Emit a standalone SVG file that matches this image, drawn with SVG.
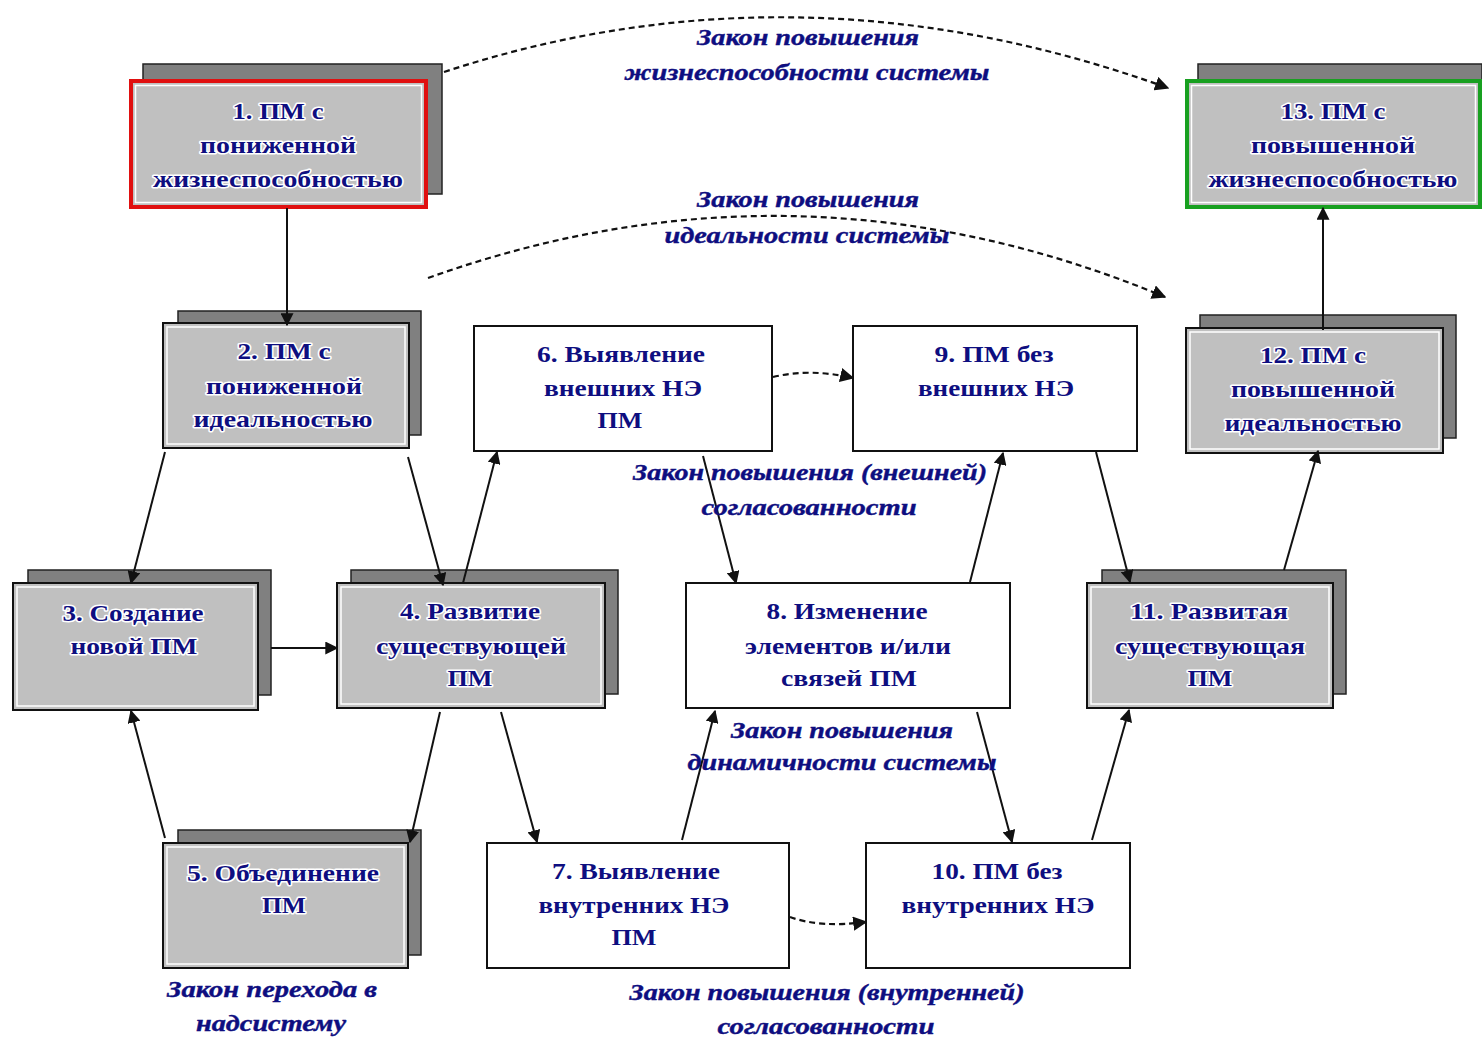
<svg xmlns="http://www.w3.org/2000/svg" width="1482" height="1037" viewBox="0 0 1482 1037">
<style>
.sh{fill:#808080;stroke:#222;stroke-width:1.5}
.gb{fill:#c0c0c0;stroke:#111;stroke-width:2}
.in{fill:none;stroke:#fff;stroke-width:1.5}
.wb{fill:#fff;stroke:#111;stroke-width:2}
.t{font-family:"Liberation Serif","DejaVu Serif",serif;font-weight:bold;font-size:24px;fill:#0e0e80;stroke:#fff;stroke-width:3;paint-order:stroke;stroke-linejoin:round;text-anchor:middle}
.l{font-family:"Liberation Serif","DejaVu Serif",serif;font-weight:bold;font-style:italic;font-size:23px;fill:#0e0e80;stroke:#0e0e80;stroke-width:0.4;text-anchor:middle}
.c{fill:none;stroke:#111;stroke-width:2}
.d{fill:none;stroke:#111;stroke-width:2.2;stroke-dasharray:6 4}
</style>
<defs>
<marker id="ah" viewBox="0 0 10 10" refX="9" refY="5" markerWidth="6.5" markerHeight="6.5" orient="auto" markerUnits="strokeWidth">
<path d="M0,0 L10,5 L0,10 z" fill="#111"/>
</marker>
</defs>
<rect width="1482" height="1037" fill="#fff"/>

<g id="node1">
<rect class="sh" x="143" y="64" width="299" height="130"/>
<rect x="131" y="81" width="295" height="126" fill="#c0c0c0" stroke="#e01010" stroke-width="4"/>
<rect class="in" x="135.5" y="85.5" width="286" height="117" stroke="#f4c0c0"/>
<text class="t" x="278" y="119" textLength="91" lengthAdjust="spacingAndGlyphs">1. ПМ с</text>
<text class="t" x="278" y="153" textLength="156" lengthAdjust="spacingAndGlyphs">пониженной</text>
<text class="t" x="278" y="187" textLength="250" lengthAdjust="spacingAndGlyphs">жизнеспособностью</text>
</g>

<g id="node13">
<rect class="sh" x="1198" y="64" width="284" height="130"/>
<rect x="1187" y="81" width="293" height="126" fill="#c0c0c0" stroke="#18a020" stroke-width="4"/>
<rect class="in" x="1191.5" y="85.5" width="284" height="117" stroke="#c8f0c8"/>
<text class="t" x="1333" y="119" textLength="105" lengthAdjust="spacingAndGlyphs">13. ПМ с</text>
<text class="t" x="1333" y="153" textLength="164" lengthAdjust="spacingAndGlyphs">повышенной</text>
<text class="t" x="1333" y="187" textLength="249" lengthAdjust="spacingAndGlyphs">жизнеспособностью</text>
</g>

<g id="node2">
<rect class="sh" x="178" y="311" width="243" height="124"/>
<rect class="gb" x="163" y="323" width="246" height="125"/>
<rect class="in" x="167" y="327" width="238" height="117"/>
<text class="t" x="284" y="359" textLength="93" lengthAdjust="spacingAndGlyphs">2. ПМ с</text>
<text class="t" x="284" y="394" textLength="156" lengthAdjust="spacingAndGlyphs">пониженной</text>
<text class="t" x="283" y="427" textLength="179" lengthAdjust="spacingAndGlyphs">идеальностью</text>
</g>

<g id="node3">
<rect class="sh" x="28" y="570" width="243" height="125"/>
<rect class="gb" x="13" y="583" width="245" height="127"/>
<rect class="in" x="17" y="587" width="237" height="119"/>
<text class="t" x="133" y="621" textLength="141" lengthAdjust="spacingAndGlyphs">3. Создание</text>
<text class="t" x="134" y="654" textLength="127" lengthAdjust="spacingAndGlyphs">новой ПМ</text>
</g>

<g id="node4">
<rect class="sh" x="351" y="570" width="267" height="124"/>
<rect class="gb" x="337" y="583" width="268" height="125"/>
<rect class="in" x="341" y="587" width="260" height="117"/>
<text class="t" x="470" y="619" textLength="140" lengthAdjust="spacingAndGlyphs">4. Развитие</text>
<text class="t" x="471" y="654" textLength="190" lengthAdjust="spacingAndGlyphs">существующей</text>
<text class="t" x="470" y="686" textLength="45" lengthAdjust="spacingAndGlyphs">ПМ</text>
</g>

<g id="node5">
<rect class="sh" x="178" y="830" width="243" height="125"/>
<rect class="gb" x="163" y="843" width="245" height="125"/>
<rect class="in" x="167" y="847" width="237" height="117"/>
<text class="t" x="283" y="881" textLength="192" lengthAdjust="spacingAndGlyphs">5. Объединение</text>
<text class="t" x="284" y="913" textLength="44" lengthAdjust="spacingAndGlyphs">ПМ</text>
</g>

<g id="node6">
<rect class="wb" x="474" y="326" width="298" height="125"/>
<text class="t" x="621" y="362" textLength="168" lengthAdjust="spacingAndGlyphs">6. Выявление</text>
<text class="t" x="623" y="396" textLength="158" lengthAdjust="spacingAndGlyphs">внешних НЭ</text>
<text class="t" x="620" y="428" textLength="45" lengthAdjust="spacingAndGlyphs">ПМ</text>
</g>

<g id="node7">
<rect class="wb" x="487" y="843" width="302" height="125"/>
<text class="t" x="636" y="879" textLength="168" lengthAdjust="spacingAndGlyphs">7. Выявление</text>
<text class="t" x="634" y="913" textLength="191" lengthAdjust="spacingAndGlyphs">внутренних НЭ</text>
<text class="t" x="634" y="945" textLength="45" lengthAdjust="spacingAndGlyphs">ПМ</text>
</g>

<g id="node8">
<rect class="wb" x="686" y="583" width="324" height="125"/>
<text class="t" x="847" y="619" textLength="161" lengthAdjust="spacingAndGlyphs">8. Изменение</text>
<text class="t" x="848" y="654" textLength="206" lengthAdjust="spacingAndGlyphs">элементов и/или</text>
<text class="t" x="849" y="686" textLength="136" lengthAdjust="spacingAndGlyphs">связей ПМ</text>
</g>

<g id="node9">
<rect class="wb" x="853" y="326" width="284" height="125"/>
<text class="t" x="994" y="362" textLength="119" lengthAdjust="spacingAndGlyphs">9. ПМ без</text>
<text class="t" x="996" y="396" textLength="156" lengthAdjust="spacingAndGlyphs">внешних НЭ</text>
</g>

<g id="node10">
<rect class="wb" x="866" y="843" width="264" height="125"/>
<text class="t" x="997" y="879" textLength="131" lengthAdjust="spacingAndGlyphs">10. ПМ без</text>
<text class="t" x="998" y="913" textLength="193" lengthAdjust="spacingAndGlyphs">внутренних НЭ</text>
</g>

<g id="node11">
<rect class="sh" x="1102" y="570" width="244" height="124"/>
<rect class="gb" x="1087" y="583" width="246" height="125"/>
<rect class="in" x="1091" y="587" width="238" height="117"/>
<text class="t" x="1209" y="619" textLength="158" lengthAdjust="spacingAndGlyphs">11. Развитая</text>
<text class="t" x="1210" y="654" textLength="190" lengthAdjust="spacingAndGlyphs">существующая</text>
<text class="t" x="1210" y="686" textLength="45" lengthAdjust="spacingAndGlyphs">ПМ</text>
</g>

<g id="node12">
<rect class="sh" x="1200" y="315" width="256" height="123"/>
<rect class="gb" x="1186" y="328" width="257" height="125"/>
<rect class="in" x="1190" y="332" width="249" height="117"/>
<text class="t" x="1313" y="363" textLength="106" lengthAdjust="spacingAndGlyphs">12. ПМ с</text>
<text class="t" x="1313" y="397" textLength="164" lengthAdjust="spacingAndGlyphs">повышенной</text>
<text class="t" x="1313" y="431" textLength="177" lengthAdjust="spacingAndGlyphs">идеальностью</text>
</g>

<g id="connectors">
<line class="c" x1="287" y1="208" x2="287" y2="325" marker-end="url(#ah)"/>
<line class="c" x1="165" y1="452" x2="131" y2="583" marker-end="url(#ah)"/>
<line class="c" x1="408" y1="457" x2="443" y2="585" marker-end="url(#ah)"/>
<line class="c" x1="463" y1="583" x2="497" y2="452" marker-end="url(#ah)"/>
<line class="c" x1="271" y1="648" x2="337" y2="648" marker-end="url(#ah)"/>
<line class="c" x1="440" y1="712" x2="410" y2="842" marker-end="url(#ah)"/>
<line class="c" x1="165" y1="838" x2="131" y2="711" marker-end="url(#ah)"/>
<line class="c" x1="501" y1="712" x2="537" y2="842" marker-end="url(#ah)"/>
<line class="c" x1="682" y1="840" x2="715" y2="711" marker-end="url(#ah)"/>
<line class="c" x1="703" y1="456" x2="736" y2="583" marker-end="url(#ah)"/>
<line class="c" x1="970" y1="582" x2="1003" y2="453" marker-end="url(#ah)"/>
<line class="c" x1="977" y1="712" x2="1012" y2="842" marker-end="url(#ah)"/>
<line class="c" x1="1092" y1="840" x2="1129" y2="710" marker-end="url(#ah)"/>
<line class="c" x1="1096" y1="452" x2="1130" y2="582" marker-end="url(#ah)"/>
<line class="c" x1="1284" y1="570" x2="1318" y2="451" marker-end="url(#ah)"/>
<line class="c" x1="1323" y1="330" x2="1323" y2="208" marker-end="url(#ah)"/>
<path class="d" d="M773,377 Q810,368 853,378" marker-end="url(#ah)"/>
<path class="d" d="M790,917 Q820,928 866,922" marker-end="url(#ah)"/>
<path class="d" d="M444,72 Q800,-45 1168,88" marker-end="url(#ah)"/>
<path class="d" d="M428,278 Q800,145 1165,297" marker-end="url(#ah)"/>
</g>

<g id="labels">
<text class="l" x="808" y="45" textLength="222" lengthAdjust="spacingAndGlyphs">Закон повышения</text>
<text class="l" x="807" y="80" textLength="365" lengthAdjust="spacingAndGlyphs">жизнеспособности системы</text>
<text class="l" x="808" y="207" textLength="222" lengthAdjust="spacingAndGlyphs">Закон повышения</text>
<text class="l" x="807" y="243" textLength="285" lengthAdjust="spacingAndGlyphs">идеальности системы</text>
<text class="l" x="810" y="480" textLength="354" lengthAdjust="spacingAndGlyphs">Закон повышения (внешней)</text>
<text class="l" x="809" y="515" textLength="215" lengthAdjust="spacingAndGlyphs">согласованности</text>
<text class="l" x="842" y="738" textLength="222" lengthAdjust="spacingAndGlyphs">Закон повышения</text>
<text class="l" x="842" y="770" textLength="309" lengthAdjust="spacingAndGlyphs">динамичности системы</text>
<text class="l" x="272" y="997" textLength="210" lengthAdjust="spacingAndGlyphs">Закон перехода в</text>
<text class="l" x="271" y="1031" textLength="150" lengthAdjust="spacingAndGlyphs">надсистему</text>
<text class="l" x="827" y="1000" textLength="395" lengthAdjust="spacingAndGlyphs">Закон повышения (внутренней)</text>
<text class="l" x="826" y="1034" textLength="217" lengthAdjust="spacingAndGlyphs">согласованности</text>
</g>
</svg>
